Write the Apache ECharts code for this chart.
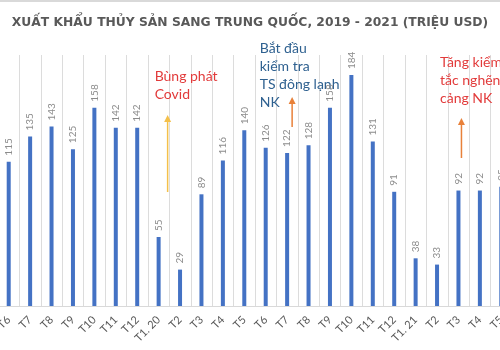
<!DOCTYPE html>
<html>
<head>
<meta charset="utf-8">
<script src="https://cdn.jsdelivr.net/npm/echarts@6/dist/echarts.min.js"></script>
<style>
    html, body { margin: 0; padding: 0; background: #fff; }
    #main { width: 500px; height: 350px; }
</style>
</head>
<body>
<div id="main"></div>
<script>
// thang, tu T6/2019 den T5/2021
const months = ['T6', 'T7', 'T8', 'T9', 'T10', 'T11', 'T12', 'T1. 20', 'T2', 'T3', 'T4', 'T5',
    'T6', 'T7', 'T8', 'T9', 'T10', 'T11', 'T12', 'T1. 21', 'T2', 'T3', 'T4', 'T5'];
const exportValues = [115, 135, 143, 125, 158, 142, 142, 55, 29, 89, 116, 140,
    126, 122, 128, 158, 184, 131, 91, 38, 33, 92, 92, 95];

const titleText = 'XUẤT KHẨU THỦY SẢN SANG TRUNG QUỐC, 2019 - 2021 (TRIỆU USD)';
const noteCovid = 'Bùng phát\nCovid';
const noteCheck = 'Bắt đầu\nkiểm tra\nTS đông lạnh\nNK';
const notePort = 'Tăng kiểm\ntắc nghẽn\ncảng NK';

function arrow(x, yFrom, yTo, color) {
    return {
        type: 'group',
        children: [
            { type: 'line', shape: { x1: x, y1: yFrom, x2: x, y2: yTo + 6 }, style: { stroke: color, lineWidth: 1.5 } },
            { type: 'polygon', shape: { points: [[x - 3.5, yTo + 7], [x + 3.5, yTo + 7], [x, yTo]] }, style: { fill: color } }
        ]
    };
}

function note(x, y, text, color) {
    return {
        type: 'text', left: x, top: y,
        style: { text: text, fill: color, font: '14px Lato', lineHeight: 18 }
    };
}

function renderChart(dom) {
    if (!dom) return;
    var myChart = echarts.init(dom);
    var option;
    option = {
        backgroundColor: '#fff',
        animation: false,
        title: {
            text: titleText,
            left: 'center',
            top: 12,
            textStyle: {
                color: '#595959',
                fontSize: 12.3,
                fontWeight: 'bold',
                fontFamily: 'DejaVu Sans'
            }
        },
        grid: {
            left: -2,
            right: -12,
            top: 55,
            bottom: 44,
            outerBoundsMode: 'none'
        },
        xAxis: {
            type: 'category',
            data: months,
            axisTick: { show: false },
            axisLine: { lineStyle: { color: '#d9d9d9' } },
            splitLine: { show: true, interval: 0, lineStyle: { color: '#dcdcdc' } },
            axisLabel: {
                interval: 0,
                rotate: 45,
                margin: 12,
                fontSize: 11,
                fontFamily: 'Lato',
                color: '#595959'
            }
        },
        yAxis: {
            type: 'value',
            min: 0,
            max: 200,
            show: false
        },
        series: [
            {
                type: 'bar',
                data: exportValues,
                barWidth: 4,
                itemStyle: { color: '#4472c4' },
                label: {
                    show: true,
                    position: 'top',
                    rotate: 90,
                    align: 'left',
                    verticalAlign: 'middle',
                    distance: 6,
                    fontSize: 10,
                    fontFamily: 'Lato',
                    color: '#8c8c8c'
                }
            }
        ]
    };
    myChart.setOption(option);

    // chu thich: vi tri tinh tu cot tuong ung
    var px = function (i) { return myChart.convertToPixel({ xAxisIndex: 0 }, i); };
    myChart.setOption({
        graphic: [
            { type: 'rect', shape: { x: 0, y: 0, width: 500, height: 2 }, style: { fill: '#d9d9d9' } },
            arrow(px(7) + 9, 192, 115, '#f4c04a'),
            arrow(px(13) + 5, 127, 97, '#e8813a'),
            arrow(px(21) + 3, 158, 118, '#e8813a'),
            note(px(7) - 4, 67, noteCovid, '#e23b3b'),
            note(px(12) - 6, 39, noteCheck, '#2f6190'),
            note(px(20) + 3, 53, notePort, '#e23b3b')
        ]
    });
}

renderChart(document.getElementById('main'));
</script>
</body>
</html>
